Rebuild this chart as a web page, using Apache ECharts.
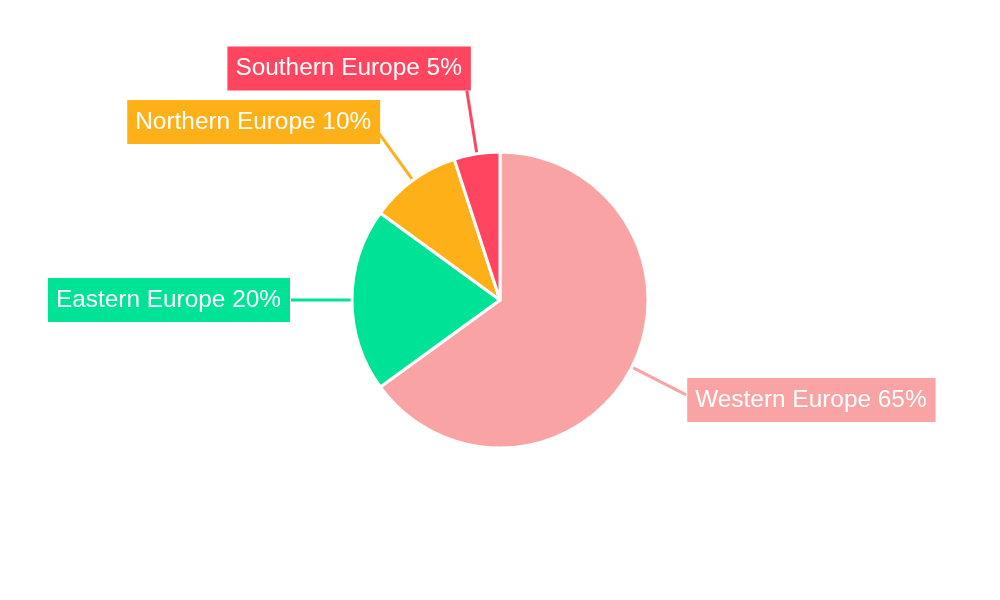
<!DOCTYPE html>
<html>
<head>
<meta charset="utf-8">
<script src="https://cdn.jsdelivr.net/npm/echarts@6/dist/echarts.min.js"></script>
<style>html,body{margin:0;padding:0;background:#fff;}#c{width:1000px;height:600px;}</style>
</head>
<body>
<div id="c"></div>
<script>
const categories = ['Western Europe', 'Eastern Europe', 'Northern Europe', 'Southern Europe'];
const values = [65, 20, 10, 5];
const colors = ['#F9A3A4', '#00E396', '#FEB019', '#FF4560'];
const lineLengths = [61, 61, 61, 64];

const chart = echarts.init(document.getElementById('c'));
chart.setOption({
  backgroundColor: '#ffffff',
  animation: false,
  series: [{
    type: 'pie',
    center: [500, 300],
    radius: 148,
    startAngle: 90,
    clockwise: true,
    avoidLabelOverlap: false,
    data: categories.map((c, i) => ({
      name: c, value: values[i],
      itemStyle: { color: colors[i] },
      labelLine: { length: lineLengths[i] }
    })),
    itemStyle: { borderColor: '#ffffff', borderWidth: 3 },
    label: {
      show: true,
      position: 'outside',
      formatter: p => p.name + ' ' + p.value + '%',
      color: '#ffffff',
      fontFamily: 'Liberation Sans, Arial, sans-serif',
      fontSize: 24.4,
      lineHeight: 24,
      backgroundColor: 'inherit',
      padding: [10, 9, 10, 8],
      borderRadius: 0,
      distanceToLabelLine: 0
    },
    labelLine: {
      show: true,
      length: 61,
      length2: 0,
      smooth: false,
      lineStyle: { width: 3 }
    },
    labelLayout: function (p) {
      const h = p.labelRect.height;
      const dys = { 0: 5, 1: 0, 2: -9, 3: -h / 2 };
      const dxs = { 0: 1, 1: -1, 2: 3, 3: 4 };
      return { dx: dxs[p.dataIndex] || 0, dy: dys[p.dataIndex] || 0, hideOverlap: false, moveOverlap: null };
    }
  }]
});
</script>
</body>
</html>
